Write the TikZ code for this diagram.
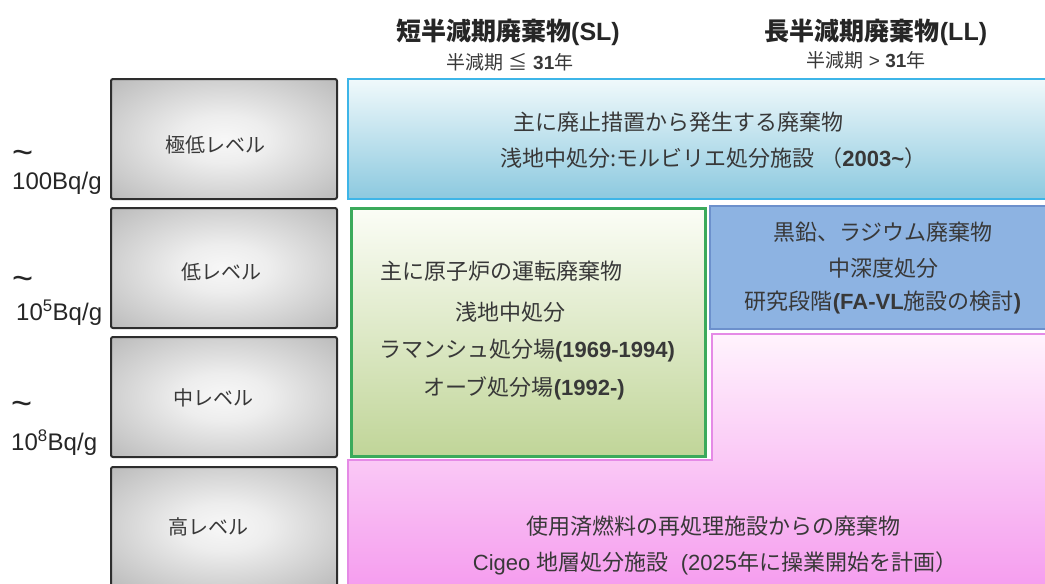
\documentclass[tikz,border=0pt]{standalone}
\usepackage{fontspec}
\setmainfont{Liberation Sans}
\newfontfamily\jp{Noto Sans CJK JP}
\newfontfamily\la{Liberation Sans}
\newcommand\lb[1]{{\la\bfseries #1}}
\newcommand\lr[1]{{\la #1}}
\definecolor{txt}{HTML}{383838}
\definecolor{grayedge}{HTML}{2E2E2E}
\definecolor{blueedge}{HTML}{3DB5E8}
\definecolor{bluetop}{HTML}{F0F9FB}
\definecolor{bluebot}{HTML}{8CC9DF}
\definecolor{greenedge}{HTML}{3BAA5B}
\definecolor{greentop}{HTML}{FBFDF6}
\definecolor{greenbot}{HTML}{C0D598}
\definecolor{dblue}{HTML}{8DB3E2}
\definecolor{dblueedge}{HTML}{6C90CC}
\definecolor{pinktop}{HTML}{FFF3FD}
\definecolor{pinkbot}{HTML}{F59CEE}
\definecolor{pinkedge}{HTML}{E58AE6}
\pgfdeclareradialshading{lvlshade}{\pgfpoint{0bp}{0bp}}{color(0bp)=(black!3); color(10bp)=(black!7); color(50bp)=(black!38)}
\tikzset{
  lvlbox/.style={draw=grayedge, line width=2pt, rounded corners=2pt,
    shade, shading=lvlshade,
    minimum width=226pt, minimum height=120pt, anchor=north west},
  lvltext/.style={font=\jp\fontsize{20}{24}\selectfont, text=txt, inner sep=0pt},
  boxtext/.style={font=\jp\fontsize{22}{26}\selectfont, text=txt, inner sep=0pt},
  headtext/.style={font=\jp\bfseries\fontsize{25}{29}\selectfont, text=black!85, inner sep=0pt},
  subtext/.style={font=\jp\fontsize{19}{22}\selectfont, text=txt, inner sep=0pt},
  bqtext/.style={font=\la\fontsize{24}{28}\selectfont, text=black!85, anchor=west, inner sep=0pt},
  tildetext/.style={font=\la\fontsize{36}{40}\selectfont, text=black!85, anchor=west, inner sep=0pt},
}
\begin{document}
\begin{tikzpicture}[x=1pt,y=-1pt]
\clip (0,0) rectangle (1045,584);
\fill[white] (0,0) rectangle (1045,584);

% level boxes
\node[lvlbox] (g1) at (110,78) {};
\node[lvlbox] (g2) at (110,207) {};
\node[lvlbox] (g3) at (110,336) {};
\node[lvlbox] (g4) at (110,466) {};
\node[lvltext] (t1) at (215,145) {極低レベル};
\node[lvltext] (t2) at (221,272) {低レベル};
\node[lvltext] (t3) at (213,398) {中レベル};
\node[lvltext] (t4) at (208,527) {高レベル};

% left labels
\node[tildetext] (q1) at (12,157) {\textasciitilde};
\node[bqtext] (b1) at (12,183) {100Bq/g};
\node[tildetext] (q2) at (12,283) {\textasciitilde};
\node[bqtext] (b2) at (16,313) {10\textsuperscript{5}Bq/g};
\node[tildetext] (q3) at (11,408) {\textasciitilde};
\node[bqtext] (b3) at (11,443) {10\textsuperscript{8}Bq/g};

% pink L-shaped region
\shade[top color=pinktop, bottom color=pinkbot]
  (712,334) -- (1050,334) -- (1050,590) -- (348,590) -- (348,460) -- (712,460) -- cycle;
\draw[pinkedge, line width=1.5pt]
  (1050,334) -- (712,334) -- (712,460) -- (348,460) -- (348,590);

% blue box
\node[draw=blueedge, line width=2pt, top color=bluetop, bottom color=bluebot,
  minimum width=703pt, minimum height=120pt, anchor=north west] (vll) at (347,78) {};
% green box
\node[draw=greenedge, line width=2.5pt, top color=greentop, bottom color=greenbot,
  minimum width=354pt, minimum height=248pt, anchor=north west] (ll) at (350,207) {};
% dark blue box
\node[draw=dblueedge, line width=1.5pt, fill=dblue,
  minimum width=341pt, minimum height=123pt, anchor=north west] (fa) at (709,205) {};

% headings
\node[headtext] (h1) at (508,32) {短半減期廃棄物\la(SL)};
\node[headtext] (h2) at (876,32) {長半減期廃棄物\la(LL)};
\node[subtext] (s1) at (510,62) {半減期\lr{ }≦\lr{ }\lb{31}年};
\node[subtext] (s2) at (866,60) {半減期\lr{ > }\lb{31}年};

% texts
\node[boxtext, anchor=west] (v1) at (513,122) {主に廃止措置から発生する廃棄物};
\node[boxtext, anchor=west] (v2) at (500,158) {浅地中処分:モルビリエ処分施設\lr{ }（\lb{2003\textasciitilde}）};
\node[boxtext, anchor=west] (l1) at (380,271) {主に原子炉の運転廃棄物};
\node[boxtext] (l2) at (510,312) {浅地中処分};
\node[boxtext] (l3) at (527,351) {ラマンシュ処分場\lb{(1969-1994)}};
\node[boxtext] (l4) at (524,388) {オーブ処分場\lb{(1992-)}};
\node[boxtext] (f1) at (883,232) {黒鉛、ラジウム廃棄物};
\node[boxtext] (f2) at (883,268) {中深度処分};
\node[boxtext] (f3) at (883,303) {研究段階\lb{(FA-VL}施設の検討\lb{)}};
\node[boxtext] (p1) at (713,526) {使用済燃料の再処理施設からの廃棄物};
\node[boxtext] (p2) at (715,563) {\lr{Cigeo }地層処分施設\lr{ \ (2025}年に操業開始を計画）};
\end{tikzpicture}
\end{document}
